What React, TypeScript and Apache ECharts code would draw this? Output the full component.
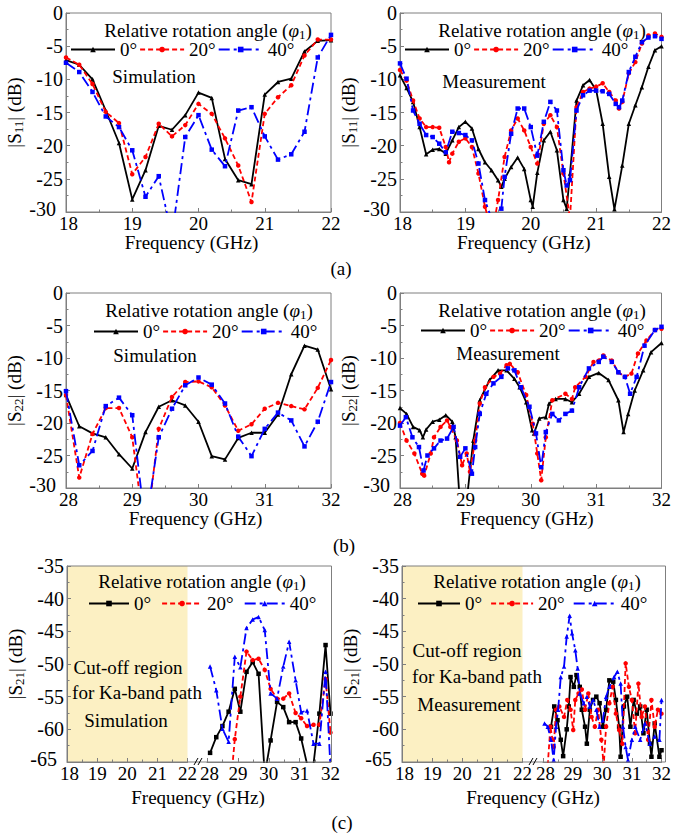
import React, { useEffect, useRef } from 'react';
import * as echarts from 'echarts';

const FONT = 'Liberation Serif';
const AXIS_GRAY = '#7f7f7f';
const YELLOW = '#FCF0C3';

// ---------- (a) |S11| simulation, 18-22 GHz ----------
const S11_SIM_FREQ = [18, 18.2, 18.4, 18.6, 18.8, 19, 19.2, 19.4, 19.6, 19.8, 20, 20.2, 20.4, 20.6, 20.8, 21, 21.2, 21.4, 21.6, 21.8, 22];
const S11_SIM_0 = [-7.1, -7.8, -10.0, -14.7, -19.6, -28.1, -23.7, -17.0, -17.6, -15.4, -12.0, -12.8, -22.0, -25.2, -25.8, -12.3, -10.4, -9.9, -5.8, -4.2, -4.1];
const S11_SIM_20 = [-6.7, -7.8, -10.7, -14.9, -16.6, -24.3, -21.7, -16.7, -18.6, -16.9, -13.7, -15.2, -18.9, -23.0, -28.5, -15.2, -12.7, -10.9, -6.4, -4.0, -4.0];
const S11_SIM_40 = [-7.5, -8.9, -11.9, -15.6, -17.2, -20.7, -27.7, -24.6, -33.6, -18.7, -15.4, -20.6, -23.1, -14.7, -14.2, -18.6, -22.1, -21.3, -17.9, -6.7, -3.3];

// ---------- (a) |S11| measurement ----------
const S11_MEAS_0 = [[18.0, -9.4], [18.1, -11.3], [18.2, -13.4], [18.3, -17.2], [18.4, -21.3], [18.5, -20.6], [18.6, -20.5], [18.7, -21.2], [18.8, -19.2], [18.9, -17.2], [19.0, -16.4], [19.1, -17.4], [19.2, -20.5], [19.3, -22.5], [19.4, -23.7], [19.5, -25.2], [19.55, -26.2], [19.6, -25.0], [19.7, -23.2], [19.8, -21.8], [19.9, -23.5], [20.0, -28.2], [20.03, -29.2], [20.1, -24.1], [20.2, -19.2], [20.3, -17.9], [20.4, -20.7], [20.5, -28.2], [20.55, -29.5], [20.6, -24.2], [20.7, -13.2], [20.8, -10.9], [20.9, -10.1], [21.0, -11.6], [21.1, -16.7], [21.2, -24.7], [21.28, -29.6], [21.4, -23.0], [21.5, -16.7], [21.6, -13.9], [21.7, -11.2], [21.8, -8.1], [21.9, -5.6], [22.0, -5.0]];
const S11_MEAS_20 = [[18.0, -8.6], [18.1, -10.2], [18.2, -13.2], [18.3, -15.9], [18.4, -17.2], [18.5, -17.2], [18.6, -17.3], [18.7, -20.2], [18.75, -22.5], [18.8, -21.2], [18.9, -19.4], [19.0, -18.9], [19.1, -20.2], [19.2, -24.2], [19.3, -29.2], [19.35, -31], [19.45, -31], [19.5, -28.2], [19.6, -21.7], [19.7, -17.7], [19.8, -15.9], [19.9, -17.7], [20.0, -20.2], [20.1, -22.7], [20.2, -16.7], [20.3, -15.4], [20.4, -17.2], [20.5, -24.2], [20.6, -31], [20.7, -14.2], [20.8, -11.9], [20.9, -11.4], [21.0, -11.1], [21.1, -10.6], [21.2, -11.9], [21.3, -13.2], [21.35, -14.4], [21.4, -13.4], [21.5, -9.1], [21.6, -7.4], [21.7, -4.6], [21.8, -3.4], [21.9, -3.1], [22.0, -3.6]];
const S11_MEAS_40 = [[18.0, -7.6], [18.1, -9.9], [18.2, -14.7], [18.3, -16.7], [18.4, -18.4], [18.5, -18.7], [18.6, -19.7], [18.7, -21.0], [18.8, -17.9], [18.9, -18.1], [19.0, -18.4], [19.1, -19.2], [19.2, -22.7], [19.3, -28.2], [19.4, -31], [19.5, -30.5], [19.55, -29.5], [19.6, -24.7], [19.7, -18.2], [19.8, -14.4], [19.9, -14.4], [20.0, -17.2], [20.1, -21.5], [20.2, -16.4], [20.3, -13.4], [20.4, -14.7], [20.5, -23.7], [20.55, -26.0], [20.6, -25.2], [20.7, -14.7], [20.8, -12.4], [20.9, -11.7], [21.0, -11.7], [21.1, -11.8], [21.2, -12.2], [21.3, -13.7], [21.35, -14.2], [21.4, -13.2], [21.5, -8.9], [21.6, -6.6], [21.7, -4.4], [21.8, -3.7], [21.9, -3.5], [22.0, -3.9]];

// ---------- (b) |S22| simulation, 28-32 GHz ----------
const S22_SIM_FREQ = [28, 28.2, 28.4, 28.6, 28.8, 29, 29.2, 29.4, 29.6, 29.8, 30, 30.2, 30.4, 30.6, 30.8, 31, 31.2, 31.4, 31.6, 31.8, 32];
const S22_SIM_0 = [-15.7, -20.5, -21.6, -22.2, -24.8, -27.0, -21.4, -17.5, -16.5, -17.3, -19.8, -25.1, -25.6, -22.3, -21.5, -21.5, -18.7, -12.5, -8.1, -8.7, -14.8];
const S22_SIM_20 = [-15.7, -28.4, -21.7, -17.7, -17.7, -22.2, -38, -20.9, -16.0, -13.7, -13.6, -14.5, -17.3, -21.2, -20.2, -17.8, -16.9, -17.4, -17.9, -14.6, -10.3];
const S22_SIM_40 = [-15.1, -26.5, -24.3, -17.4, -16.1, -18.8, -36, -22.2, -17.8, -14.2, -13.0, -14.1, -17.0, -22.1, -25.1, -20.9, -18.4, -19.6, -23.6, -19.8, -13.7];

// ---------- (b) |S22| measurement ----------
const S22_MEAS_0 = [[28.0, -17.7], [28.1, -18.6], [28.2, -20.6], [28.3, -21.1], [28.35, -22.2], [28.4, -21.0], [28.5, -19.8], [28.6, -19.5], [28.7, -18.8], [28.8, -19.8], [28.85, -22.2], [28.92, -33], [29.01, -33], [29.12, -22.7], [29.22, -16.5], [29.37, -13.4], [29.5, -11.9], [29.63, -11.9], [29.75, -13.2], [29.83, -14.5], [29.93, -16.8], [30.02, -21.1], [30.05, -21.6], [30.13, -19.3], [30.23, -19.1], [30.28, -17.0], [30.38, -16.3], [30.53, -16.3], [30.63, -16.8], [30.74, -15.5], [30.89, -12.9], [31.04, -12.3], [31.19, -13.4], [31.34, -16.5], [31.42, -21.4], [31.49, -18.6], [31.59, -15.0], [31.72, -11.9], [31.84, -9.1], [32.0, -7.7]];
const S22_MEAS_20 = [[28.0, -20.0], [28.1, -22.7], [28.22, -24.7], [28.34, -27.8], [28.37, -28.1], [28.47, -24.7], [28.52, -22.2], [28.62, -20.6], [28.72, -19.6], [28.77, -20.6], [28.87, -22.7], [28.95, -26.5], [29.02, -24.7], [29.07, -27.5], [29.15, -22.7], [29.22, -17.0], [29.3, -14.5], [29.43, -12.9], [29.53, -12.4], [29.63, -11.1], [29.68, -10.9], [29.8, -12.2], [29.93, -15.7], [30.03, -20.1], [30.1, -24.7], [30.16, -28.8], [30.23, -22.2], [30.33, -16.5], [30.53, -15.5], [30.63, -16.3], [30.68, -14.5], [30.84, -12.9], [30.96, -10.6], [31.04, -10.4], [31.11, -9.6], [31.24, -10.4], [31.34, -12.2], [31.44, -12.9], [31.54, -12.4], [31.64, -9.3], [31.77, -7.3], [31.9, -5.7], [32.0, -5.5]];
const S22_MEAS_40 = [[28.0, -20.4], [28.09, -19.1], [28.19, -22.2], [28.29, -23.7], [28.36, -27.3], [28.42, -25.0], [28.52, -23.9], [28.62, -22.7], [28.72, -22.4], [28.82, -20.6], [28.92, -25.2], [29.0, -23.9], [29.1, -27.8], [29.15, -23.7], [29.22, -18.6], [29.32, -15.5], [29.43, -13.9], [29.55, -12.9], [29.65, -11.6], [29.75, -11.9], [29.85, -14.5], [29.98, -17.5], [30.08, -21.6], [30.16, -26.8], [30.23, -21.4], [30.33, -18.6], [30.43, -19.6], [30.53, -18.6], [30.63, -18.1], [30.74, -14.5], [30.89, -11.6], [31.04, -10.6], [31.11, -9.8], [31.24, -10.6], [31.34, -12.2], [31.44, -12.9], [31.52, -15.5], [31.62, -12.9], [31.74, -8.1], [31.9, -5.7], [32.0, -5.2]];

// ---------- (c) |S21| simulation ----------
const S21_SIM_FREQ = [28.1, 28.3, 28.5, 28.7, 28.9, 29.08, 29.28, 29.48, 29.67, 29.87, 30.06, 30.27, 30.47, 30.66, 30.87, 31.05, 31.24, 31.45, 31.64, 31.84, 32.0];
const S21_SIM_0 = [-63.6, -61.2, -59.5, -57.3, -53.8, -57.3, -51.2, -49.7, -51.5, -67, -61.7, -55.8, -56.6, -58.9, -58.9, -61.4, -65.3, -65.3, -57.6, -47.1, -57.6];
const S21_SIM_20 = [null, null, null, -72, -61.5, -55.0, -48.1, -49.4, -49.2, -50.9, -53.8, -55.3, -55.3, -54.5, -57.5, -58.3, -59.5, -59.3, -59.3, -52.3, -60.5];
const S21_SIM_40 = [-50.4, -54.0, -59.9, -61.9, -48.9, -50.5, -44.5, -43.2, -42.8, -44.8, -54.5, -55.3, -50.4, -46.6, -52.5, -57.4, -57.1, -62.2, -62.2, -51.2, -66];

// ---------- (c) |S21| measurement ----------
const S21_MEAS_0 = [[28.27, -59.6], [28.38, -56.5], [28.49, -58.6], [28.6, -61.6], [28.68, -64.1], [28.8, -60], [28.87, -56.5], [28.93, -52.0], [29.04, -53.5], [29.13, -51.7], [29.24, -53.5], [29.31, -57.0], [29.42, -59.6], [29.48, -62.2], [29.58, -57.0], [29.69, -55.5], [29.8, -55.0], [29.91, -56.0], [30.02, -59.6], [30.13, -57.0], [30.24, -52.5], [30.37, -52.7], [30.46, -55.5], [30.57, -59.6], [30.62, -64.2], [30.73, -56.5], [30.84, -55.0], [30.95, -59.6], [31.06, -55.5], [31.17, -57.6], [31.28, -56.5], [31.39, -60.6], [31.5, -57.0], [31.61, -62.2], [31.66, -64.2], [31.77, -59.1], [31.93, -64.2], [32.0, -63.2]];
const S21_MEAS_20 = [[28.16, -65.5], [28.25, -59.6], [28.36, -62.7], [28.44, -57.0], [28.55, -56.5], [28.71, -58.1], [28.82, -55.5], [28.93, -57.0], [29.02, -60.1], [29.09, -55.5], [29.2, -54.5], [29.31, -53.9], [29.42, -57.0], [29.53, -54.5], [29.64, -58.1], [29.75, -59.6], [29.86, -57.0], [29.97, -61.6], [30.05, -65.5], [30.13, -59.6], [30.24, -56.0], [30.35, -53.5], [30.46, -57.6], [30.57, -60.1], [30.68, -62.2], [30.79, -49.9], [30.9, -53.5], [31.0, -55.5], [31.11, -60.6], [31.22, -53.0], [31.33, -58.1], [31.44, -56.5], [31.55, -61.6], [31.66, -55.5], [31.77, -59.6], [31.88, -57.0], [32.0, -57.6]];
const S21_MEAS_40 = [[28.05, -59.1], [28.16, -59.6], [28.27, -61.6], [28.36, -64.7], [28.44, -59.6], [28.51, -57.0], [28.6, -52.0], [28.71, -50.4], [28.8, -45.8], [28.9, -42.6], [28.98, -45.3], [29.09, -47.9], [29.17, -50.7], [29.24, -54.5], [29.37, -56.0], [29.48, -55.0], [29.58, -56.5], [29.69, -55.5], [29.8, -57.0], [29.91, -59.6], [30.02, -58.6], [30.13, -55.0], [30.24, -53.5], [30.4, -52.0], [30.51, -51.2], [30.62, -53.0], [30.7, -59.6], [30.79, -62.7], [30.87, -64.7], [31.0, -61.6], [31.11, -59.6], [31.28, -61.6], [31.44, -59.1], [31.61, -62.2], [31.77, -61.1], [31.93, -61.6], [32.0, -55.5]];

const LEGEND_LABELS = ['0°', '20°', '40°'];

const zip = (xs: number[], ys: (number | null)[]) => xs.map((x, i) => [x, ys[i]]);

const FS = 19;
const TICK_FS = 20;
const subRich = {
  b: { fontSize: FS, fontFamily: FONT, color: '#000', lineHeight: 17, verticalAlign: 'top' },
  i: { fontSize: FS, fontFamily: FONT, color: '#000', fontStyle: 'italic', lineHeight: 17, verticalAlign: 'top' },
  s: { fontSize: 13, fontFamily: FONT, color: '#000', lineHeight: 13, verticalAlign: 'top', padding: [7, 0, 0, 0] },
};

function xAxisDef(gridIndex: number, min: number, max: number, name: string, nameGap = 14, shift = 0, fs = 19) {
  return {
    type: 'value', gridIndex, min, max, interval: 1,
    axisLine: { show: true, onZero: false, lineStyle: { color: AXIS_GRAY, width: 1 } },
    axisTick: { show: true, inside: true, length: 4, lineStyle: { color: AXIS_GRAY } },
    minorTick: { show: true, splitNumber: 2, length: 2.5, lineStyle: { color: AXIS_GRAY } },
    splitLine: { show: false },
    axisLabel: {
      color: '#000', fontSize: fs, fontFamily: FONT, margin: 4, lineHeight: 14,
      formatter: (v: number) => (v === min ? `{m|${v}}` : String(v)),
      rich: { m: { color: '#000', fontSize: fs, fontFamily: FONT, lineHeight: 14, padding: [0, 0, 0, 5] } },
    },
    name, nameLocation: 'middle', nameGap,
    nameTextStyle: { color: '#000', fontSize: FS, fontFamily: FONT, padding: [0, shift, 0, 0] },
  };
}

function yAxisDef(gridIndex: number, min: number, max: number, sub: string | null, show = true) {
  return {
    type: 'value', gridIndex, min, max, interval: 5, show,
    axisLine: { show: true, onZero: false, lineStyle: { color: AXIS_GRAY, width: 1 } },
    axisTick: { show: true, inside: true, length: 4, lineStyle: { color: AXIS_GRAY } },
    minorTick: { show: true, splitNumber: 2, length: 2.5, lineStyle: { color: AXIS_GRAY } },
    splitLine: { show: false },
    axisLabel: {
      color: '#000', fontSize: TICK_FS, fontFamily: FONT, margin: 3, lineHeight: 14,
      formatter: (v: number) => (v === min ? `{m|${v}}` : String(v)),
      rich: { m: { color: '#000', fontSize: TICK_FS, fontFamily: FONT, lineHeight: 14, padding: [0, 7, 6, 0] } },
    },
    name: sub ? `{b||S}{s|${sub}}{b|| (dB)}` : '',
    nameLocation: 'middle', nameGap: 34,
    nameTextStyle: { color: '#000', fontSize: FS, fontFamily: FONT, rich: subRich },
  };
}

type Kind = 0 | 1 | 2;
function ser(kind: Kind, tag: string, gi: number, data: any[], partC: boolean) {
  const colors = ['#000000', '#FF0000', '#0000FF'];
  const types: any[] = ['solid', [5, 3], [11, 4, 3, 4]];
  const symbolsAB = ['triangle', 'circle', 'rect'];
  const symbolsC = ['rect', 'circle', 'triangle'];
  return {
    type: 'line', name: `${LEGEND_LABELS[kind]}|${tag}`,
    xAxisIndex: gi, yAxisIndex: gi, data,
    symbol: partC ? symbolsC[kind] : symbolsAB[kind], symbolSize: 4.5, showSymbol: true,
    clip: true, smooth: false, connectNulls: false,
    color: colors[kind],
    itemStyle: { color: colors[kind] },
    lineStyle: { color: colors[kind], width: 1.8, type: types[kind] },
    z: 2 + kind,
  };
}

function legendDef(tag: string, left: number, cy: number, itemWidth: number, gap: number) {
  return {
    data: LEGEND_LABELS.map((l) => `${l}|${tag}`),
    left, top: cy - 8, padding: 0, itemWidth, itemHeight: 7, itemGap: gap,
    selectedMode: false, orient: 'horizontal',
    formatter: (n: string) => n.split('|')[0],
    textStyle: { color: '#000', fontSize: FS, fontFamily: FONT, lineHeight: 16 },
  };
}

function txt(text: string, x: number, y: number, rich = false) {
  return {
    type: 'text', x, y, z: 50,
    style: rich
      ? { text, rich: subRich, align: 'center', verticalAlign: 'middle', fill: '#000', fontSize: FS, fontFamily: FONT }
      : { text, align: 'center', verticalAlign: 'middle', fill: '#000', fontSize: FS, fontFamily: FONT },
  };
}

const TITLE = '{b|Relative rotation angle (}{i|φ}{s|1}{b|)}';

function buildOption() {
  const grids = [
    { left: 66, top: 13, width: 265, height: 199, show: true, borderColor: AXIS_GRAY, borderWidth: 1 },
    { left: 400, top: 13, width: 265, height: 199, show: true, borderColor: AXIS_GRAY, borderWidth: 1 },
    { left: 66, top: 293, width: 265, height: 195, show: true, borderColor: AXIS_GRAY, borderWidth: 1 },
    { left: 400, top: 293, width: 264, height: 195, show: true, borderColor: AXIS_GRAY, borderWidth: 1 },
    { left: 67, top: 566, width: 120.5, height: 196, show: true, backgroundColor: YELLOW, borderWidth: 0 },
    { left: 207, top: 566, width: 123.5, height: 196, show: false },
    { left: 402, top: 566, width: 120.5, height: 196, show: true, backgroundColor: YELLOW, borderWidth: 0 },
    { left: 543, top: 566, width: 120, height: 196, show: false },
  ];
  const xAxes = [
    xAxisDef(0, 18, 22, 'Frequency (GHz)', 14, 14),
    xAxisDef(1, 18, 22, 'Frequency (GHz)', 14, 14),
    xAxisDef(2, 28, 32, 'Frequency (GHz)', 18, 6),
    xAxisDef(3, 28, 32, 'Frequency (GHz)', 18, 8),
    xAxisDef(4, 18, 22, ''),
    xAxisDef(5, 28, 32, ''),
    xAxisDef(6, 18, 22, ''),
    xAxisDef(7, 28, 32, ''),
  ];
  const yAxes = [
    yAxisDef(0, -30, 0, '11'),
    yAxisDef(1, -30, 0, '11'),
    yAxisDef(2, -30, 0, '22'),
    yAxisDef(3, -30, 0, '22'),
    yAxisDef(4, -65, -35, '21'),
    yAxisDef(5, -65, -35, null, false),
    yAxisDef(6, -65, -35, '21'),
    yAxisDef(7, -65, -35, null, false),
  ];
  const series = [
    ser(0, 'a1', 0, zip(S11_SIM_FREQ, S11_SIM_0), false),
    ser(1, 'a1', 0, zip(S11_SIM_FREQ, S11_SIM_20), false),
    ser(2, 'a1', 0, zip(S11_SIM_FREQ, S11_SIM_40), false),
    ser(0, 'a2', 1, S11_MEAS_0, false),
    ser(1, 'a2', 1, S11_MEAS_20, false),
    ser(2, 'a2', 1, S11_MEAS_40, false),
    ser(0, 'b1', 2, zip(S22_SIM_FREQ, S22_SIM_0), false),
    ser(1, 'b1', 2, zip(S22_SIM_FREQ, S22_SIM_20), false),
    ser(2, 'b1', 2, zip(S22_SIM_FREQ, S22_SIM_40), false),
    ser(0, 'b2', 3, S22_MEAS_0, false),
    ser(1, 'b2', 3, S22_MEAS_20, false),
    ser(2, 'b2', 3, S22_MEAS_40, false),
    ser(0, 'c1', 5, zip(S21_SIM_FREQ, S21_SIM_0), true),
    ser(1, 'c1', 5, zip(S21_SIM_FREQ, S21_SIM_20), true),
    ser(2, 'c1', 5, zip(S21_SIM_FREQ, S21_SIM_40), true),
    ser(0, 'c2', 7, S21_MEAS_0, true),
    ser(1, 'c2', 7, S21_MEAS_20, true),
    ser(2, 'c2', 7, S21_MEAS_40, true),
  ];
  const legends = [
    legendDef('a1', 70, 48, 44, 2),
    legendDef('a2', 404, 48, 44, 2),
    legendDef('b1', 93, 330, 44, 2),
    legendDef('b2', 420, 329, 44, 2),
    legendDef('c1', 88, 602, 40, 10),
    legendDef('c2', 417, 602, 42, 8),
  ];
  const frameStyle = { fill: 'none', stroke: AXIS_GRAY, lineWidth: 1 };
  const breakStyle = { stroke: '#000', lineWidth: 1 };
  const graphic = [
    txt(TITLE, 208, 29.5, true),
    txt(TITLE, 542, 29.5, true),
    txt(TITLE, 209, 309.5, true),
    txt(TITLE, 542, 309, true),
    txt(TITLE, 202, 580, true),
    txt(TITLE, 537, 580, true),
    txt('Simulation', 154, 76),
    txt('Measurement', 494, 81),
    txt('Simulation', 155, 355),
    txt('Measurement', 508, 353),
    txt('Cut-off region', 128, 667),
    txt('for Ka-band path', 137, 692),
    txt('Simulation', 126, 720),
    txt('Cut-off region', 467, 650),
    txt('for Ka-band path', 477, 676),
    txt('Measurement', 469, 704),
    txt('Frequency (GHz)', 198, 797),
    txt('Frequency (GHz)', 533, 797),
    txt('(a)', 341, 268),
    txt('(b)', 344, 545),
    txt('(c)', 342, 822),
    { type: 'rect', z: 60, shape: { x: 67, y: 566, width: 264.5, height: 196 }, style: frameStyle },
    { type: 'rect', z: 60, shape: { x: 402, y: 566, width: 263.5, height: 196 }, style: frameStyle },
    { type: 'line', z: 61, shape: { x1: 194, y1: 765, x2: 198, y2: 758 }, style: breakStyle },
    { type: 'line', z: 61, shape: { x1: 198, y1: 765, x2: 202, y2: 758 }, style: breakStyle },
    { type: 'line', z: 61, shape: { x1: 529, y1: 765, x2: 533, y2: 758 }, style: breakStyle },
    { type: 'line', z: 61, shape: { x1: 533, y1: 765, x2: 537, y2: 758 }, style: breakStyle },
  ];
  return {
    animation: false,
    backgroundColor: '#ffffff',
    textStyle: { fontFamily: FONT },
    grid: grids,
    xAxis: xAxes,
    yAxis: yAxes,
    legend: legends,
    series,
    graphic,
  };
}

export default function App() {
  const ref = useRef<HTMLDivElement>(null);
  useEffect(() => {
    document.body.style.margin = '0';
    const chart = echarts.init(ref.current!, null, { renderer: 'svg' });
    chart.setOption(buildOption() as any);
    return () => chart.dispose();
  }, []);
  return <div ref={ref} style={{ width: 674, height: 833 }} />;
}
